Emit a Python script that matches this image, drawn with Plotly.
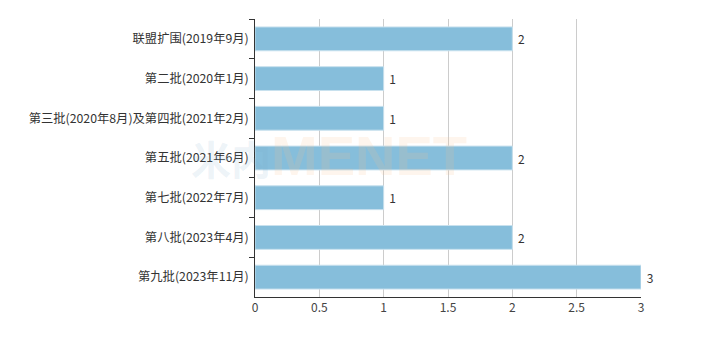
import plotly.graph_objects as go

categories = [
    "联盟扩围(2019年9月)",
    "第二批(2020年1月)",
    "第三批(2020年8月)及第四批(2021年2月)",
    "第五批(2021年6月)",
    "第七批(2022年7月)",
    "第八批(2023年4月)",
    "第九批(2023年11月)",
]
values = [2, 1, 1, 2, 1, 2, 3]
x_ticks = [0, 0.5, 1, 1.5, 2, 2.5, 3]
x_tick_labels = ["0", "0.5", "1", "1.5", "2", "2.5", "3"]

FONT = "Noto Sans CJK SC, Microsoft YaHei, sans-serif"

fig = go.Figure(
    go.Bar(
        x=values,
        y=categories,
        orientation="h",
        width=0.6,
        marker=dict(color="#86bedb", line=dict(color="#c8e1ee", width=1)),
        text=[" " + str(v) for v in values],
        textposition="outside",
        textfont=dict(family=FONT, size=12, color="#333"),
        cliponaxis=False,
    )
)

watermark = (
    "<span style='font-family:Noto Sans CJK SC;font-size:40px;color:rgba(120,170,200,0.15)'><b>米内</b></span>"
    "<span style='font-family:Liberation Sans;font-size:56px;color:rgba(250,190,140,0.16)'><b>MENET</b></span>"
)

fig.update_layout(
    width=702,
    height=342,
    margin=dict(l=255, r=61, t=19, b=45),
    paper_bgcolor="white",
    plot_bgcolor="white",
    showlegend=False,
    font=dict(family=FONT, size=12, color="#333"),
    xaxis=dict(
        range=[0, 3],
        tickvals=x_ticks,
        ticktext=x_tick_labels,
        showgrid=True,
        gridcolor="#cccccc",
        gridwidth=1,
        zeroline=False,
        showline=True,
        linecolor="#333",
        linewidth=1,
        ticks="",
        tickfont=dict(size=12, color="#444"),
    ),
    yaxis=dict(
        autorange="reversed",
        showline=True,
        linecolor="#333",
        linewidth=1,
        ticks="outside",
        tickson="boundaries",
        ticklen=5,
        tickcolor="#333",
        showgrid=False,
        tickfont=dict(size=12.3, color="#333"),
        ticksuffix=" ",
    ),
    annotations=[
        dict(
            text=watermark,
            xref="paper", yref="paper",
            x=-0.17, y=0.51, xanchor="left", yanchor="middle",
            showarrow=False,
            font=dict(size=56),
        ),
    ],
)

fig.write_html("out.html")
